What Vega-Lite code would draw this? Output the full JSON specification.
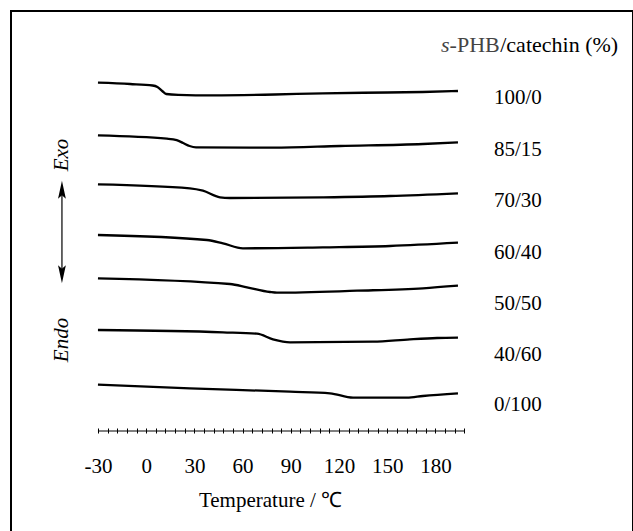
{
  "$schema": "https://vega.github.io/schema/vega-lite/v6.json",
  "width": 622,
  "height": 522,
  "padding": {"left": 11, "top": 11, "right": 0, "bottom": 0},
  "autosize": {"type": "none"},
  "background": "white",
  "config": {"view": {"stroke": "black", "strokeWidth": 2}},
  "datasets": {
    "curves": [
      {"series": "100/0", "T": -30, "h": 44.83},
      {"series": "100/0", "T": -10, "h": 44.7},
      {"series": "100/0", "T": 4, "h": 44.55},
      {"series": "100/0", "T": 7, "h": 44.4},
      {"series": "100/0", "T": 10, "h": 44.0},
      {"series": "100/0", "T": 12.5, "h": 43.7},
      {"series": "100/0", "T": 20, "h": 43.62},
      {"series": "100/0", "T": 41.6, "h": 43.57},
      {"series": "100/0", "T": 80, "h": 43.65},
      {"series": "100/0", "T": 110, "h": 43.77},
      {"series": "100/0", "T": 150, "h": 43.85},
      {"series": "100/0", "T": 172, "h": 43.9},
      {"series": "100/0", "T": 194, "h": 44.0},
      {"series": "85/15", "T": -30, "h": 39.57},
      {"series": "85/15", "T": 12.9, "h": 39.23},
      {"series": "85/15", "T": 19, "h": 39.08},
      {"series": "85/15", "T": 23, "h": 38.8},
      {"series": "85/15", "T": 27, "h": 38.5},
      {"series": "85/15", "T": 31, "h": 38.37},
      {"series": "85/15", "T": 79, "h": 38.33},
      {"series": "85/15", "T": 120.6, "h": 38.5},
      {"series": "85/15", "T": 172.2, "h": 38.7},
      {"series": "85/15", "T": 194, "h": 38.87},
      {"series": "70/30", "T": -30, "h": 34.67},
      {"series": "70/30", "T": 27.2, "h": 34.27},
      {"series": "70/30", "T": 35.3, "h": 34.03},
      {"series": "70/30", "T": 45.9, "h": 33.37},
      {"series": "70/30", "T": 52.1, "h": 33.3},
      {"series": "70/30", "T": 110, "h": 33.37},
      {"series": "70/30", "T": 151.7, "h": 33.5},
      {"series": "70/30", "T": 194, "h": 33.77},
      {"series": "60/40", "T": -30, "h": 29.6},
      {"series": "60/40", "T": 37.8, "h": 29.1},
      {"series": "60/40", "T": 47.8, "h": 28.77},
      {"series": "60/40", "T": 60.2, "h": 28.27},
      {"series": "60/40", "T": 110, "h": 28.37},
      {"series": "60/40", "T": 151.7, "h": 28.5},
      {"series": "60/40", "T": 194, "h": 28.83},
      {"series": "50/50", "T": -30, "h": 25.27},
      {"series": "50/50", "T": 52.1, "h": 24.7},
      {"series": "50/50", "T": 62.7, "h": 24.37},
      {"series": "50/50", "T": 77, "h": 23.9},
      {"series": "50/50", "T": 81.4, "h": 23.83},
      {"series": "50/50", "T": 131.2, "h": 24.03},
      {"series": "50/50", "T": 172.2, "h": 24.27},
      {"series": "50/50", "T": 194, "h": 24.53},
      {"series": "40/60", "T": -30, "h": 20.1},
      {"series": "40/60", "T": 47.8, "h": 19.87},
      {"series": "40/60", "T": 68.9, "h": 19.73},
      {"series": "40/60", "T": 78.9, "h": 19.17},
      {"series": "40/60", "T": 89.5, "h": 18.87},
      {"series": "40/60", "T": 141.1, "h": 18.93},
      {"series": "40/60", "T": 164.1, "h": 19.17},
      {"series": "40/60", "T": 181, "h": 19.3},
      {"series": "40/60", "T": 194, "h": 19.33},
      {"series": "0/100", "T": -30, "h": 14.63},
      {"series": "0/100", "T": 27.2, "h": 14.27},
      {"series": "0/100", "T": 89.5, "h": 13.93},
      {"series": "0/100", "T": 114.4, "h": 13.77},
      {"series": "0/100", "T": 128.7, "h": 13.33},
      {"series": "0/100", "T": 162.3, "h": 13.33},
      {"series": "0/100", "T": 172.2, "h": 13.5},
      {"series": "0/100", "T": 194, "h": 13.77}
    ],
    "labels": [
      {"label": "100/0", "T": 216.4, "h": 43.3},
      {"label": "85/15", "T": 216.4, "h": 38.1},
      {"label": "70/30", "T": 216.4, "h": 33.0},
      {"label": "60/40", "T": 216.4, "h": 27.8},
      {"label": "50/50", "T": 216.4, "h": 22.7},
      {"label": "40/60", "T": 216.4, "h": 17.6},
      {"label": "0/100", "T": 216.4, "h": 12.6}
    ]
  },
  "encoding": {
    "x": {
      "field": "T",
      "type": "quantitative",
      "scale": {"domain": [-84.1, 302.9], "nice": false, "zero": false},
      "axis": {
        "values": [-30,-24,-18,-12,-6,0,6,12,18,24,30,36,42,48,54,60,66,72,78,84,90,96,102,108,114,120,126,132,138,144,150,156,162,168,174,180,186,192,198],
        "domain": false,
        "grid": false,
        "offset": -100,
        "tickSize": -5,
        "tickColor": "black",
        "tickWidth": 1,
        "labelExpr": "datum.value % 30 === 0 && datum.value <= 180 ? '' + datum.value : ''",
        "labelFont": "Liberation Serif",
        "labelFontSize": 21,
        "labelColor": "black",
        "labelPadding": 27,
        "labelFlush": false,
        "labelOverlap": false,
        "title": "Temperature / ℃",
        "titleFont": "Liberation Serif",
        "titleFontSize": 21,
        "titleFontWeight": "normal",
        "titleColor": "black",
        "titleX": 259,
        "titleY": 67,
        "titleBaseline": "middle",
        "titleAlign": "center",
        "titleAnchor": null
      }
    },
    "y": {
      "field": "h",
      "type": "quantitative",
      "scale": {"domain": [-0.2, 52], "nice": false, "zero": false},
      "axis": null
    }
  },
  "layer": [
    {
      "data": {"name": "curves"},
      "mark": {"type": "line", "interpolate": "monotone", "color": "black", "strokeWidth": 2.3},
      "encoding": {"detail": {"field": "series", "type": "nominal"}}
    },
    {
      "data": {"values": [{"T": -30, "T2": 198, "h": 10}]},
      "mark": {"type": "rule", "color": "black", "strokeWidth": 1},
      "encoding": {"x2": {"field": "T2"}}
    },
    {
      "data": {"name": "labels"},
      "mark": {"type": "text", "align": "left", "baseline": "middle", "font": "Liberation Serif", "fontSize": 21, "color": "black"},
      "encoding": {"text": {"field": "label"}}
    },
    {
      "data": {"values": [{"label": "s", "T": 183.4, "h": 48.6}]},
      "mark": {"type": "text", "align": "left", "baseline": "middle", "font": "Liberation Serif", "fontSize": 22, "fontStyle": "italic", "color": "#444444"},
      "encoding": {"text": {"field": "label"}}
    },
    {
      "data": {"values": [{"label": "-PHB", "T": 188.8, "h": 48.6}]},
      "mark": {"type": "text", "align": "left", "baseline": "middle", "font": "Liberation Serif", "fontSize": 22, "color": "#444444"},
      "encoding": {"text": {"field": "label"}}
    },
    {
      "data": {"values": [{"label": "/catechin (%)", "T": 220.3, "h": 48.6}]},
      "mark": {"type": "text", "align": "left", "baseline": "middle", "font": "Liberation Serif", "fontSize": 22, "color": "black"},
      "encoding": {"text": {"field": "label"}}
    },
    {
      "data": {"values": [
        {"label": "Exo", "T": -52.6, "h": 37.6},
        {"label": "Endo", "T": -52.6, "h": 19.1}
      ]},
      "mark": {"type": "text", "align": "center", "baseline": "middle", "angle": 270, "font": "Liberation Serif", "fontSize": 21, "fontStyle": "italic", "color": "black"},
      "encoding": {"text": {"field": "label"}}
    },
    {
      "data": {"values": [{"T": -52.4, "h": 34.1, "h2": 25.6}]},
      "mark": {"type": "rule", "color": "black", "strokeWidth": 1.2},
      "encoding": {"y2": {"field": "h2"}}
    },
    {
      "data": {"values": [
        {"T": -52.4, "h": 33.9, "dir": "up"},
        {"T": -52.4, "h": 25.9, "dir": "down"}
      ]},
      "mark": {"type": "point", "filled": true, "color": "black", "opacity": 1, "size": 500},
      "encoding": {
        "shape": {
          "field": "dir",
          "type": "nominal",
          "scale": {"domain": ["up", "down"], "range": ["M0,-1L0.35,0.6L0,0.3L-0.35,0.6Z", "M0,1L0.35,-0.6L0,-0.3L-0.35,-0.6Z"]},
          "legend": null
        }
      }
    }
  ]
}
